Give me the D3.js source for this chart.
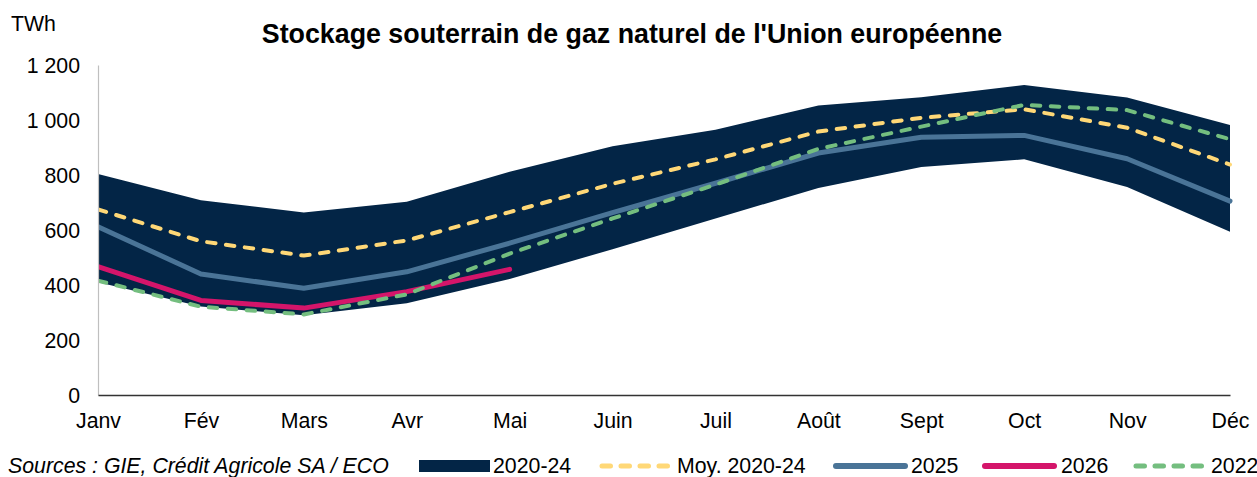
<!DOCTYPE html>
<html><head><meta charset="utf-8">
<script src="https://cdn.jsdelivr.net/npm/d3@7/dist/d3.min.js"></script>
<style>
body{margin:0;background:#fff;}
svg{font-family:"Liberation Sans",Arial,sans-serif;}
</style></head>
<body><svg id="c" width="1257" height="477"></svg>
<script>
const months = ["Janv","Fév","Mars","Avr","Mai","Juin","Juil","Août","Sept","Oct","Nov","Déc"];
const max2020_24 = [804, 708, 664, 703, 812, 905, 965, 1053, 1083, 1127, 1082, 982];
const min2020_24 = [410, 322, 290, 334, 422, 530, 642, 753, 829, 857, 756, 594];
const avg2020_24 = [675, 559, 507, 562, 665, 768, 857, 958, 1008, 1039, 972, 838];
const y2025 = [612, 440, 388, 448, 552, 663, 770, 880, 937, 944, 859, 705];
const y2026 = [467, 344, 316, 376, 457];
const y2022 = [416, 321, 293, 366, 514, 642, 765, 895, 976, 1055, 1036, 930];
const yTicks = [0, 200, 400, 600, 800, 1000, 1200];
const yTickLabels = ["0", "200", "400", "600", "800", "1 000", "1 200"];
const title = "Stockage souterrain de gaz naturel de l'Union européenne";
const unit = "TWh";
const source = "Sources : GIE, Crédit Agricole SA / ECO";
const legendLabels = ["2020-24", "Moy. 2020-24", "2025", "2026", "2022"];

const C = {band:"#032546", avg:"#FFD877", b25:"#4A7497", p26:"#D4156A", g22:"#74BE7F"};
const FS = 21.3;

const svg = d3.select("#c");
const x = d3.scalePoint().domain(months).range([98, 1230]);
const y = d3.scaleLinear().domain([0, 1200]).range([395, 65]);

svg.append("clipPath").attr("id","clip").append("rect")
  .attr("x",98.5).attr("y",0).attr("width",1257).attr("height",477);

const plot = svg.append("g").attr("clip-path","url(#clip)");

// band
const bandData = months.map((m,i)=>({m, lo:min2020_24[i], hi:max2020_24[i]}));
plot.append("path").datum(bandData)
  .attr("fill", C.band)
  .attr("d", d3.area().x(d=>x(d.m)).y0(d=>y(d.lo)).y1(d=>y(d.hi)));

function line(vals, color, dashed, w){
  const data = vals.map((v,i)=>({m:months[i], v}));
  const p = plot.append("path").datum(data)
    .attr("fill","none").attr("stroke",color).attr("stroke-width",w)
    .attr("stroke-linejoin","round").attr("stroke-linecap","round")
    .attr("d", d3.line().x(d=>x(d.m)).y(d=>y(d.v)));
  if(dashed){ p.attr("stroke-dasharray","8.5,10.5"); }
}
line(avg2020_24, C.avg, true, 4);
line(y2025, C.b25, false, 5);
line(y2026, C.p26, false, 5);
line(y2022, C.g22, true, 4);

// axes
const ya = svg.append("g").attr("transform","translate(98,0)")
  .call(d3.axisLeft(y).tickValues(yTicks).tickSize(0).tickPadding(18)
    .tickFormat((d,i)=>yTickLabels[i]));
ya.select(".domain").attr("stroke","#BFBFBF").attr("stroke-width",1.2);
ya.selectAll("text").attr("font-size",FS).attr("fill","#000").attr("font-family","Liberation Sans, Arial, sans-serif").attr("dy","0.36em");

const xa = svg.append("g").attr("transform","translate(0,395)")
  .call(d3.axisBottom(x).tickSize(0).tickPadding(18));
xa.select(".domain").attr("stroke","#333").attr("stroke-width",1.3);
xa.selectAll("text").attr("font-size",FS).attr("fill","#000").attr("font-family","Liberation Sans, Arial, sans-serif");

// titles
svg.append("text").attr("x",632).attr("y",43).attr("text-anchor","middle")
  .attr("font-size",26.8).attr("font-weight","bold").text(title);
svg.append("text").attr("x",11).attr("y",31).attr("font-size",FS).text(unit);

// source
svg.append("text").attr("x",8).attr("y",473).attr("font-size",FS).attr("font-style","italic").text(source);

// legend
const lg = svg.append("g");
const ly = 466;
lg.append("rect").attr("x",419).attr("y",460).attr("width",71).attr("height",12).attr("fill",C.band);
lg.append("text").attr("x",493).attr("y",473).attr("font-size",FS).text(legendLabels[0]);
function legLine(x1,x2,color,dashed,w,label,tx){
  const l = lg.append("line").attr("x1",x1).attr("x2",x2).attr("y1",ly).attr("y2",ly)
    .attr("stroke",color).attr("stroke-width",w).attr("stroke-linecap","round");
  if(dashed) l.attr("stroke-dasharray","8.5,10.5");
  lg.append("text").attr("x",tx).attr("y",473).attr("font-size",FS).text(label);
}
legLine(602,668,C.avg,true,5,legendLabels[1],677);
legLine(836,905,C.b25,false,6,legendLabels[2],911);
legLine(985,1054,C.p26,false,6,legendLabels[3],1061);
legLine(1136,1204,C.g22,true,5,legendLabels[4],1211);
</script></body></html>
